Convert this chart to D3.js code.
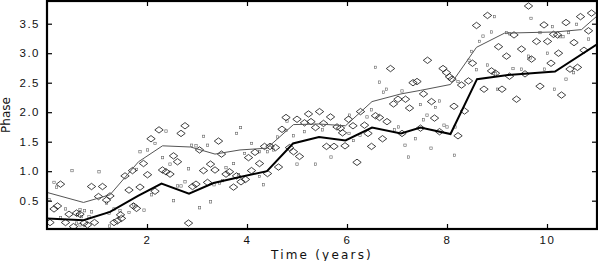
<!DOCTYPE html>
<html>
<head>
<meta charset="utf-8">
<script src="https://cdn.jsdelivr.net/npm/d3@7"></script>
<style>
  body { margin: 0; background: #fff; }
  svg { display: block; font-family: "DejaVu Sans", sans-serif; }
  .tick text { fill: #111; }
</style>
</head>
<body>
<svg id="chart" width="598" height="261"></svg>
<script>
// thick black curve (lower)
const lowerT = [0, 0.73, 1.26, 1.82, 2.29, 2.84, 3.33, 3.86, 4.4, 4.92, 5.44, 5.97, 6.5, 7.08, 7.47, 8.07, 8.6, 9.22, 10.16, 11];
const lowerV = [0.2, 0.17, 0.31, 0.58, 0.79, 0.62, 0.8, 0.9, 1.0, 1.47, 1.58, 1.52, 1.74, 1.64, 1.74, 1.63, 2.56, 2.63, 2.69, 3.15];

// thin grey curve (upper)
const upperT = [0, 0.73, 1.26, 1.83, 2.31, 2.87, 3.36, 3.86, 4.4, 4.93, 5.44, 5.97, 6.5, 7.08, 7.47, 8.07, 8.59, 9.15, 10.16, 10.69, 11];
const upperV = [0.64, 0.47, 0.6, 1.16, 1.43, 1.41, 1.29, 1.36, 1.39, 1.79, 1.8, 1.77, 2.18, 2.31, 2.37, 2.47, 3.1, 3.34, 3.36, 3.4, 3.63];

// diamond points [time, phase]
const diamonds = [
  [0.06,0.13],[0.14,0.36],[0.21,0.41],[0.27,0.78],[0.37,0.13],[0.44,0.27],[0.53,0.06],[0.59,0.29],
  [0.66,0.27],[0.74,0.12],[0.81,0.09],[0.95,0.13],[0.89,0.74],[1.11,0.74],[1.03,0.57],[1.19,0.51],
  [1.26,0.58],[1.34,0.13],[1.41,0.16],[1.49,0.2],[1.47,0.26],[1.56,0.92],[1.64,0.68],[1.71,1.01],
  [1.73,0.41],[1.79,0.37],[1.86,0.73],[1.93,1.13],[2.01,0.94],
  [2.08,1.55],[2.24,1.7],[2.16,0.66],[2.31,1.02],[2.38,0.99],[2.46,0.95],[2.53,1.26],[2.61,1.16],
  [2.68,1.64],[2.76,1.77],[2.83,0.12],[2.91,0.74],[2.98,0.78],[3.05,1.36],[3.13,1.01],[3.21,0.81],
  [3.27,1.12],[3.36,1.02],[3.43,1.51],[3.49,1.29],[3.58,0.95],[3.65,0.99],[3.73,0.73],[3.79,0.92],
  [3.88,0.82],[3.97,0.86],
  [4.03,1.23],[4.09,1.01],[4.16,1.32],[4.25,1.13],[4.35,1.42],[4.46,1.42],[4.41,0.96],[4.57,1.4],
  [4.63,1.07],[4.7,1.71],[4.78,1.91],[4.85,1.4],[4.93,1.33],[5.0,1.88],[5.05,1.25],[5.15,1.82],
  [5.23,1.97],[5.28,1.84],[5.37,1.74],[5.45,2.01],[5.53,1.81],[5.59,1.42],[5.67,1.92],[5.74,1.42],
  [5.8,1.75],[5.87,1.73],[5.91,1.65],[5.96,1.43],
  [6.03,1.88],[6.12,1.77],[6.2,1.15],[6.27,2.01],[6.35,1.78],[6.42,1.64],[6.49,1.42],[6.57,1.94],
  [6.65,1.91],[6.71,1.55],[6.8,1.84],[6.87,2.74],[6.93,2.14],[7.02,2.22],[7.17,2.22],[7.1,1.64],
  [7.25,2.07],[7.32,2.5],[7.4,2.52],[7.47,1.73],[7.53,2.31],[7.61,2.88],[7.69,2.18],[7.75,1.9],
  [7.85,1.67],[7.92,2.74],[7.99,2.67],
  [8.05,2.6],[8.1,2.56],[8.14,2.1],[8.22,1.6],[8.29,2.46],[8.35,2.02],[8.43,2.53],[8.51,2.83],
  [8.59,3.47],[8.74,2.39],[8.81,3.64],[8.89,2.7],[8.97,2.66],[9.03,3.11],[9.1,2.39],[9.19,2.95],
  [9.25,2.61],[9.34,3.31],[9.39,2.22],[9.49,3.07],[9.56,2.65],[9.63,3.8],[9.69,2.9],[9.79,3.2],
  [9.86,2.44],[9.94,3.48],[10.01,3.2],[10.08,2.83],[10.13,3.32],[10.21,3.31],[10.23,3.0],[10.29,2.29],
  [10.38,3.52],[10.46,2.73],[10.54,3.18],[10.61,2.76],[10.67,3.62],[10.74,3.05],[10.83,3.38],[10.89,3.68]
];

// small dots [time, phase]
const dots = [
  [0.04,0.52],[0.14,0.81],[0.19,0.73],[0.27,0.21],[0.37,0.36],[0.5,1.01],[0.59,0.12],[0.61,0.26],
  [0.66,0.35],[0.66,0.09],[0.69,0.23],[0.75,0.33],[0.84,0.23],[0.89,0.31],[1.04,0.99],[1.19,0.46],
  [1.24,0.29],[1.25,0.07],[1.34,0.36],[1.46,0.33],[1.64,0.3],[1.73,0.43],[1.79,1.03],[1.86,1.33],[1.94,0.34],
  [2.01,1.36],[2.09,0.6],[2.16,1.47],[2.31,1.23],[2.38,1.68],[2.46,1.12],[2.53,0.5],[2.61,0.75],
  [2.68,0.75],[2.76,0.82],[2.83,1.04],[2.89,1.44],[2.98,1.43],[3.05,0.38],[3.13,1.59],[3.21,1.44],
  [3.27,0.48],[3.34,0.77],[3.45,0.8],[3.51,0.84],[3.58,1.06],[3.73,1.13],[3.79,1.64],[3.83,0.94],
  [3.87,1.74],[3.95,1.3],
  [4.09,1.47],[4.25,1.33],[4.25,0.91],[4.33,0.77],[4.41,1.33],[4.48,1.44],[4.53,1.36],[4.61,1.58],
  [4.78,1.69],[4.8,1.85],[4.93,1.6],[5.0,1.12],[5.15,1.67],[5.37,1.12],[5.51,1.7],[5.68,1.24],
  [6.04,1.64],[6.05,1.95],[6.13,1.52],[6.26,1.61],[6.4,1.92],[6.49,2.04],[6.57,2.76],[6.65,2.51],
  [6.73,2.34],[6.79,2.39],[6.95,1.7],[7.03,1.75],[7.1,2.36],[7.16,1.44],[7.23,1.24],[7.37,1.55],
  [7.47,2.13],[7.53,1.87],[7.6,1.95],[7.68,1.39],[7.77,2.08],[7.85,2.19],[7.94,1.78],[8.0,1.75],
  [8.15,1.27],[8.16,1.75],[8.22,2.52],[8.44,2.88],[8.49,3.03],[8.59,2.72],[8.65,3.2],[8.72,3.29],
  [8.81,2.8],[8.89,3.36],[8.95,3.62],[8.97,2.65],[9.01,2.39],[9.19,3.35],[9.25,3.33],[9.32,2.74],
  [9.49,2.73],[9.63,2.95],[9.67,2.92],[9.68,3.59],[9.86,3.35],[9.95,2.73],[10.01,3.0],[10.11,3.45],
  [10.15,2.39],[10.26,3.28],[10.32,3.28],[10.38,2.56],[10.43,3.35],[10.53,2.67],[10.59,3.49],[10.83,3.24]
];

const xTicks = [2, 4, 6, 8, 10];
const yTicks = [0.5, 1.0, 1.5, 2.0, 2.5, 3.0, 3.5];

const svg = d3.select("#chart");
const margin = { top: 1, right: 1, bottom: 32, left: 47 };
const width = +svg.attr("width") - margin.left - margin.right;
const height = +svg.attr("height") - margin.top - margin.bottom;
const g = svg.append("g").attr("transform", `translate(${margin.left},${margin.top})`);

const x = d3.scaleLinear().domain([0, 11]).range([0, width]);
const y = d3.scaleLinear().domain([0.02, 3.885]).range([height, 0]);

// clip so marks stay inside the frame
svg.append("defs").append("clipPath").attr("id", "clip")
  .append("rect").attr("width", width).attr("height", height);
const plot = g.append("g").attr("clip-path", "url(#clip)");

// dots
plot.selectAll(".dot").data(dots).enter().append("rect")
  .attr("class", "dot")
  .attr("x", d => x(d[0]) - 1.2)
  .attr("y", d => y(d[1]) - 1.2)
  .attr("width", 2.4).attr("height", 2.4)
  .attr("fill", "#fff")
  .attr("stroke", "#666")
  .attr("stroke-width", 0.6);

// diamonds
plot.selectAll(".diamond").data(diamonds).enter().append("path")
  .attr("class", "diamond")
  .attr("transform", d => `translate(${x(d[0])},${y(d[1])})`)
  .attr("d", "M0,-3.2L4.2,0L0,3.2L-4.2,0Z")
  .attr("fill", "none")
  .attr("stroke", "#111")
  .attr("stroke-width", 0.8);

const line = d3.line().x(d => x(d[0])).y(d => y(d[1]));

plot.append("path")
  .datum(upperT.map((t, i) => [t, upperV[i]]))
  .attr("d", line)
  .attr("fill", "none")
  .attr("stroke", "#555")
  .attr("stroke-width", 1);

plot.append("path")
  .datum(lowerT.map((t, i) => [t, lowerV[i]]))
  .attr("d", line)
  .attr("fill", "none")
  .attr("stroke", "#000")
  .attr("stroke-width", 2);

// axes, ticks pointing inward
function styleAxis(sel) {
  sel.select(".domain").remove();
  sel.selectAll(".tick line").attr("stroke", "#000").attr("stroke-width", 1.2);
  sel.selectAll(".tick text").attr("font-size", 11.5).attr("letter-spacing", "1.5px");
}

g.append("g").attr("transform", `translate(0,${height})`)
  .call(d3.axisBottom(x).tickValues(xTicks).tickSize(-5).tickPadding(7).tickFormat(d3.format("d")))
  .call(styleAxis);

g.append("g")
  .call(d3.axisTop(x).tickValues(xTicks).tickSize(-5).tickFormat(""))
  .call(styleAxis);

g.append("g")
  .call(d3.axisLeft(y).tickValues(yTicks).tickSize(-5).tickPadding(7).tickFormat(d3.format(".1f")))
  .call(styleAxis);

g.append("g").attr("transform", `translate(${width},0)`)
  .call(d3.axisRight(y).tickValues(yTicks).tickSize(-5).tickFormat(""))
  .call(styleAxis);

// frame
g.append("rect")
  .attr("width", width).attr("height", height)
  .attr("fill", "none")
  .attr("stroke", "#000")
  .attr("stroke-width", 2.2);

// axis titles
svg.append("text")
  .attr("x", margin.left + width / 2)
  .attr("y", 258.5)
  .attr("text-anchor", "middle")
  .attr("font-size", 12)
  .attr("letter-spacing", "2.2px")
  .attr("fill", "#111")
  .text("Time (years)");

svg.append("text")
  .attr("transform", `translate(10,${margin.top + height / 2}) rotate(-90)`)
  .attr("text-anchor", "middle")
  .attr("font-size", 12)
  .attr("fill", "#111")
  .text("Phase");
</script>
</body>
</html>
